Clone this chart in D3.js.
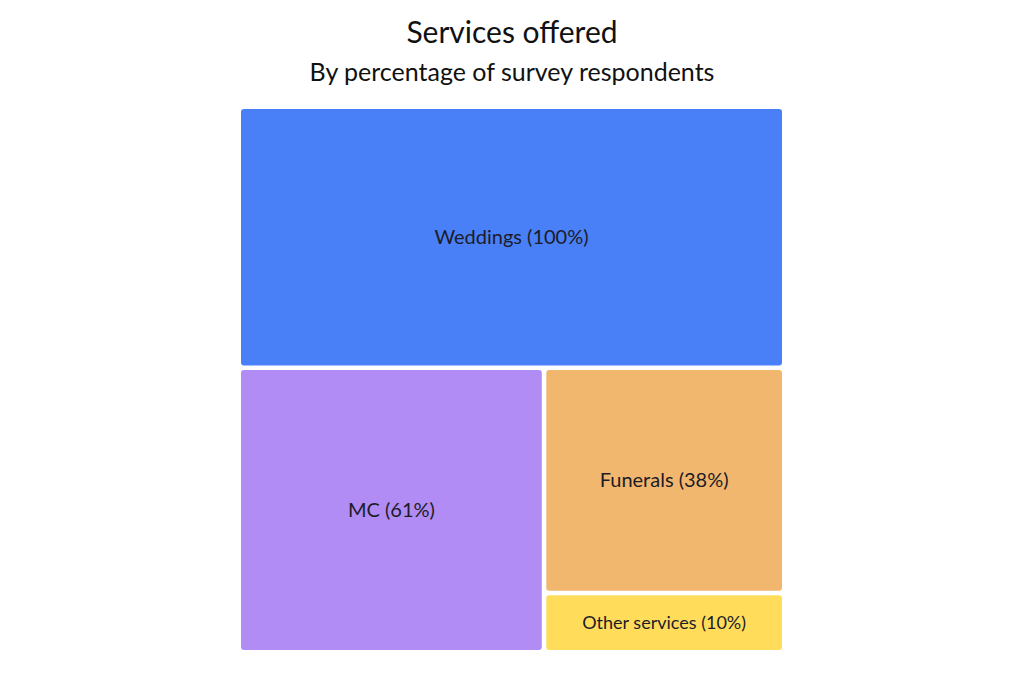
<!DOCTYPE html>
<html>
<head>
<meta charset="utf-8">
<script src="https://cdn.jsdelivr.net/npm/d3@7"></script>
<style>
  html, body { margin: 0; padding: 0; background: #ffffff; }
  svg { display: block; }
  text { font-family: "Source Sans Pro", Lato, "Noto Sans", sans-serif; }
</style>
</head>
<body>
<svg id="chart" width="1024" height="683"></svg>
<script>
const categories = ["Weddings", "MC", "Funerals", "Other services"];
const values = [100, 61, 38, 10];
const colors = ["#4a80f7", "#b08cf4", "#f2b76e", "#ffdd5b"];
const title = "Services offered";
const subtitle = "By percentage of survey respondents";

const svg = d3.select("#chart");
const W = 1024, H = 683;
const x0 = 241, y0 = 109, size = 541, gap = 4.5;

svg.append("text").attr("x", W / 2).attr("y", 43).attr("text-anchor", "middle")
  .attr("font-size", 30).attr("fill", "#111").text(title);
svg.append("text").attr("x", W / 2).attr("y", 81).attr("text-anchor", "middle")
  .attr("font-size", 25).attr("fill", "#111").text(subtitle);

const data = { children: categories.map((c, i) => ({ name: c, value: values[i], color: colors[i] })) };
const root = d3.hierarchy(data).sum(d => d.value || 0);
d3.treemap().tile(d3.treemapBinary).size([size + gap, size + gap]).paddingInner(0).round(false)(root);

const g = svg.append("g").attr("transform", `translate(${x0},${y0})`);
const leaves = g.selectAll("g.leaf").data(root.leaves()).join("g").attr("class", "leaf");
leaves.append("rect")
  .attr("x", d => d.x0).attr("y", d => d.y0)
  .attr("width", d => Math.max(0, d.x1 - d.x0 - gap))
  .attr("height", d => Math.max(0, d.y1 - d.y0 - gap))
  .attr("rx", 3).attr("ry", 3)
  .attr("fill", d => d.data.color);
leaves.append("text")
  .attr("x", d => (d.x0 + d.x1 - gap) / 2)
  .attr("y", d => (d.y0 + d.y1 - gap) / 2)
  .attr("dy", "0.35em")
  .attr("text-anchor", "middle")
  .attr("font-size", d => d.data.value < 20 ? 18 : 20)
  .attr("fill", "#1c1c28")
  .text(d => `${d.data.name} (${d.data.value}%)`);
</script>
</body>
</html>
